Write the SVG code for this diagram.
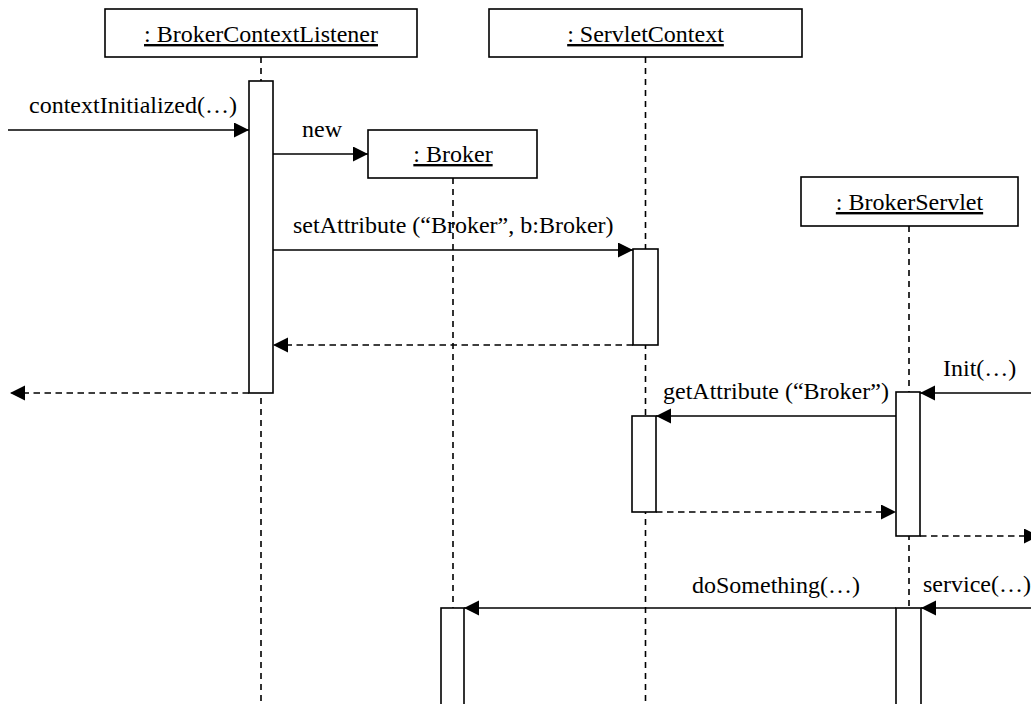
<svg xmlns="http://www.w3.org/2000/svg" width="1031" height="704" viewBox="0 0 1031 704">
  <style>
    .box { fill: #ffffff; stroke: #000000; stroke-width: 1.6; }
    .act { fill: #ffffff; stroke: #000000; stroke-width: 1.6; }
    .life { fill: none; stroke: #000000; stroke-width: 1.6; stroke-dasharray: 6 5; }
    .msg { fill: none; stroke: #000000; stroke-width: 1.6; marker-end: url(#arrow); }
    .ret { fill: none; stroke: #000000; stroke-width: 1.6; stroke-dasharray: 6.5 4.5; marker-end: url(#arrow); }
    .title { font-family: "Liberation Serif", "Times New Roman", serif; font-size: 24px; fill: #000000; text-anchor: middle; text-decoration: underline; }
    .label { font-family: "Liberation Serif", "Times New Roman", serif; font-size: 24px; fill: #000000; }
  </style>
  <defs>
    <marker id="arrow" markerUnits="userSpaceOnUse" markerWidth="16" markerHeight="16" refX="15" refY="7.5" orient="auto">
      <path d="M0,0 L15,7.5 L0,15 Z" fill="#000000" stroke="none"/>
    </marker>
  </defs>

  <rect width="1031" height="704" fill="#ffffff"/>

  <!-- lifelines -->
  <g id="lifelines">
    <line class="life" x1="261" y1="57" x2="261" y2="704"/>
    <line class="life" x1="453" y1="178" x2="453" y2="704"/>
    <line class="life" x1="645.5" y1="57" x2="645.5" y2="704"/>
    <line class="life" x1="909" y1="226" x2="909" y2="704"/>
  </g>

  <g id="broker-context-listener">
    <rect class="box" x="105" y="9" width="312" height="48"/>
    <text class="title" x="261" y="42">: BrokerContextListener</text>
    <rect class="act" x="249" y="81" width="24" height="312"/>
  </g>

  <g id="servlet-context">
    <rect class="box" x="489" y="9" width="313" height="48"/>
    <text class="title" x="645.5" y="42">: ServletContext</text>
    <rect class="act" x="633" y="249" width="25" height="96"/>
    <rect class="act" x="632" y="416" width="24" height="96"/>
  </g>

  <g id="broker">
    <rect class="box" x="368" y="130" width="169" height="48"/>
    <text class="title" x="453" y="162">: Broker</text>
    <rect class="act" x="441" y="608" width="23" height="110"/>
  </g>

  <g id="broker-servlet">
    <rect class="box" x="801" y="177" width="217" height="49"/>
    <text class="title" x="909.5" y="210">: BrokerServlet</text>
    <rect class="act" x="896" y="392" width="24" height="144"/>
    <rect class="act" x="896" y="608" width="25" height="110"/>
  </g>

  <!-- messages -->
  <g id="connectors">
    <line class="msg" x1="8" y1="130" x2="249" y2="130"/>
    <text class="label" x="29" y="113">contextInitialized(…)</text>

    <line class="msg" x1="273" y1="154" x2="368" y2="154"/>
    <text class="label" x="302" y="137">new</text>

    <line class="msg" x1="273" y1="250" x2="633" y2="250"/>
    <text class="label" x="293" y="233">setAttribute (“Broker”, b:Broker)</text>

    <line class="ret" x1="633" y1="345" x2="273" y2="345"/>
    <line class="ret" x1="249" y1="393" x2="10" y2="393"/>

    <line class="msg" x1="1031" y1="393" x2="920" y2="393"/>
    <text class="label" x="943" y="376">Init(…)</text>

    <line class="msg" x1="896" y1="416" x2="656" y2="416"/>
    <text class="label" x="663" y="399">getAttribute (“Broker”)</text>

    <line class="ret" x1="656" y1="512" x2="896" y2="512"/>
    <line class="ret" x1="920" y1="536" x2="1039" y2="536"/>

    <line class="msg" x1="1031" y1="608" x2="921" y2="608"/>
    <text class="label" x="923" y="592">service(…)</text>

    <line class="msg" x1="896" y1="608" x2="464" y2="608"/>
    <text class="label" x="692" y="593">doSomething(…)</text>
  </g>
</svg>
